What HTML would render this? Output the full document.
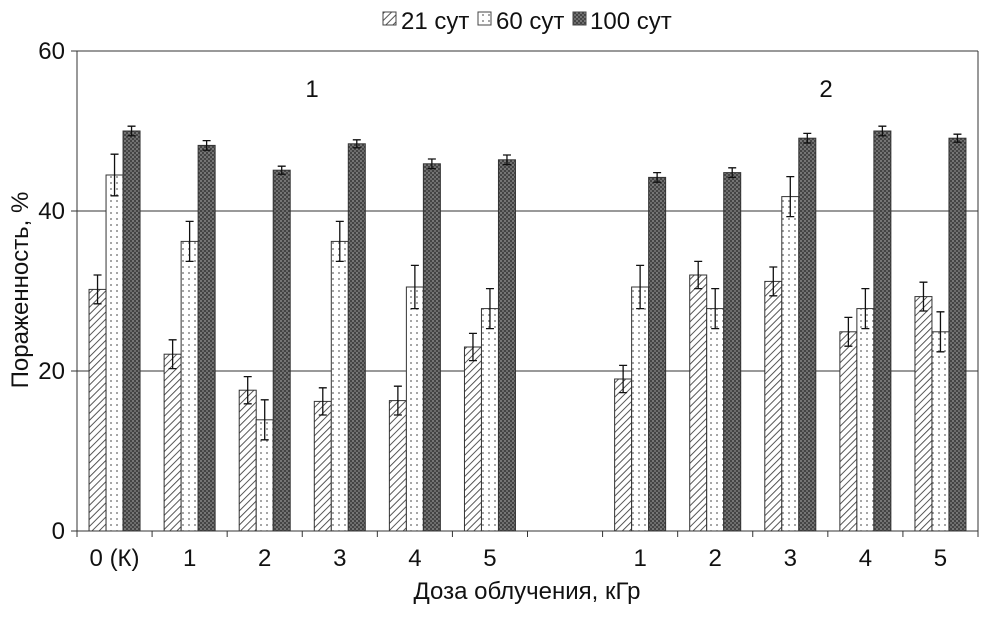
<!DOCTYPE html>
<html><head><meta charset="utf-8"><style>
body{margin:0;background:#fff;width:983px;height:612px;overflow:hidden}
svg text{font-family:"Liberation Sans Narrow","Liberation Sans",sans-serif;fill:#111}
</style></head><body>
<svg id="chart" width="983" height="612" xmlns="http://www.w3.org/2000/svg">
<defs>
<pattern id="p21" patternUnits="userSpaceOnUse" width="5" height="5" patternTransform="rotate(45)"><rect width="5" height="5" fill="#fff"/><line x1="0" y1="0" x2="0" y2="5" stroke="#444" stroke-width="1.8"/></pattern>
<pattern id="p60" patternUnits="userSpaceOnUse" width="6" height="6"><rect width="6" height="6" fill="#fff"/><circle cx="3" cy="3" r="0.9" fill="#666"/></pattern>
<pattern id="p100" patternUnits="userSpaceOnUse" width="4" height="4"><rect width="4" height="4" fill="#444"/><circle cx="1" cy="1" r="0.9" fill="#999"/><circle cx="3" cy="3" r="0.9" fill="#888"/></pattern>
</defs>
<g id="grid"></g><g id="bars"></g>
<text x="312" y="97" font-size="24" text-anchor="middle">1</text>
<text x="826" y="97" font-size="24" text-anchor="middle">2</text>
<text x="527" y="599" font-size="24" text-anchor="middle">Доза облучения, кГр</text>
<text transform="translate(28,290) rotate(-90)" font-size="24" text-anchor="middle">Пораженность, %</text>
<g>
<rect x="383" y="12" width="13" height="13" fill="url(#p21)" stroke="#444"/>
<text x="401" y="29" font-size="24">21 сут</text>
<rect x="478" y="12" width="13" height="13" fill="url(#p60)" stroke="#444"/>
<text x="496" y="29" font-size="24">60 сут</text>
<rect x="573" y="12" width="13" height="13" fill="url(#p100)" stroke="#444"/>
<text x="590" y="29" font-size="24">100 сут</text>
</g>
</svg>
<script>
const categories=["0 (К)","1","2","3","4","5","","1","2","3","4","5"];
const s21=[30.2,22.1,17.6,16.2,16.3,23.0,null,19.0,32.0,31.2,24.9,29.3];
const s60=[44.5,36.2,13.9,36.2,30.5,27.8,null,30.5,27.8,41.8,27.8,24.9];
const s100=[50.0,48.2,45.1,48.4,45.9,46.4,null,44.2,44.8,49.1,50.0,49.1];
const e21=[1.8,1.8,1.7,1.7,1.8,1.7,null,1.7,1.7,1.8,1.8,1.8];
const e60=[2.6,2.5,2.5,2.5,2.7,2.5,null,2.7,2.5,2.5,2.5,2.5];
const e100=[0.6,0.6,0.5,0.5,0.6,0.6,null,0.6,0.6,0.6,0.6,0.5];
const yTicks=[0,20,40,60];
const NS="http://www.w3.org/2000/svg";
const X0=77,X1=978,Y0=531,Y1=51,YMAX=60;
const slot=(X1-X0)/categories.length;
const y=v=>Y0-(v/YMAX)*(Y0-Y1);
const xc=i=>X0+slot*(i+0.5);
function mk(t,a,p){const e=document.createElementNS(NS,t);for(const k in a)e.setAttribute(k,a[k]);p.appendChild(e);return e;}
const grid=document.getElementById('grid'),bars=document.getElementById('bars');
yTicks.forEach(t=>{
 const l=mk('line',{x1:X0-6,x2:X1,y1:y(t),y2:y(t),stroke:'#333','stroke-width':1},grid);
 
 
 const tx=mk('text',{x:X0-12,y:y(t)+8,'font-size':24,'text-anchor':'end'},grid);tx.textContent=t;
 
 
});
const ax=mk('line',{x1:X0,x2:X0,y1:Y1,y2:Y0+6,stroke:'#333'},grid);


const rb=mk('line',{x1:X1,x2:X1,y1:Y1,y2:Y0,stroke:'#333'},grid);


categories.forEach((c,i)=>{
 const tk=mk('line',{x1:X0+slot*(i+1),x2:X0+slot*(i+1),y1:Y0,y2:Y0+6,stroke:'#333'},grid);
 
 
 const tx=mk('text',{x:xc(i),y:Y0+35,'font-size':24,'text-anchor':'middle'},grid);tx.textContent=c;
 
 
});
const series=[[s21,e21,'p21','21'],[s60,e60,'p60','60'],[s100,e100,'p100','100']];
const bw=17;
categories.forEach((c,i)=>{
 series.forEach((s,k)=>{
  const v=s[0][i];if(v==null)return;
  const x=xc(i)-1.5*bw+k*bw;
  const r=mk('rect',{x:x,y:y(v),width:bw,height:Y0-y(v),fill:'url(#'+s[2]+')',stroke:'#333','stroke-width':1},bars);
  
  
  const e=s[1][i],cx=x+bw/2;
  const g=mk('path',{d:`M${cx},${y(v+e)}V${y(v-e)}M${cx-4},${y(v+e)}H${cx+4}M${cx-4},${y(v-e)}H${cx+4}`,stroke:'#111','stroke-width':1.3,fill:'none'},bars);
  
  
 });
});
</script>
</body></html>
